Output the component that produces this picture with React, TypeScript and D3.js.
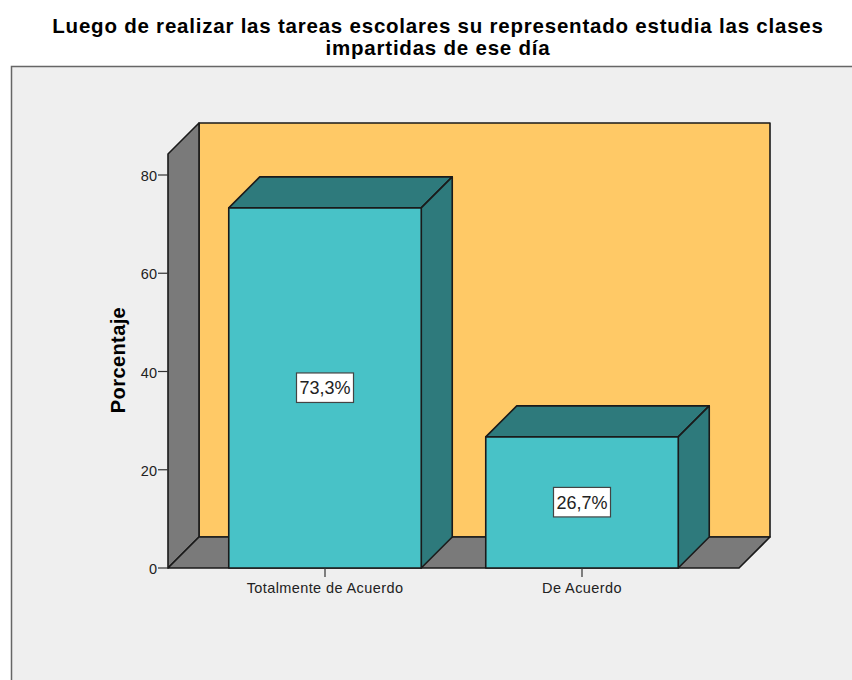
import React from "react";
import * as d3 from "d3";

const titleLines = ["Luego de realizar las tareas escolares su representado estudia las clases", "impartidas de ese día"];
const categories = ["Totalmente de Acuerdo", "De Acuerdo"];
const values = [73.3, 26.7];
const valueLabels = ["73,3%", "26,7%"];
const ticks = [0, 20, 40, 60, 80];
const yLabel = "Porcentaje";

const dx = 31, dy = 31;
const y = d3.scaleLinear().domain([0, 80]).range([568, 175]);
const x = d3.scaleBand<string>().domain(categories).range([168, 739]).paddingInner(0.251).paddingOuter(0.2364);
const line = d3.line();
const st = { stroke: "#1a1a1a", strokeWidth: 1.6, strokeLinejoin: "round" as const };
const P = (pts: [number, number][]) => line(pts)! + "Z";

export default function App() {
  const top = y(80) - 52;
  const x0 = 168, x1 = 739, y0 = y(0);
  return (
    <svg width={852} height={680} style={{ position: "absolute", left: 0, top: 0, background: "#fff" }} fontFamily="Liberation Sans, Arial, sans-serif">
      <rect x={12} y={67} width={840} height={613} fill="#efefef" />
      <path d="M11.5 680V66.5H852" fill="none" stroke="#666" strokeWidth={1.5} />
      {titleLines.map((t, i) => (
        <text key={i} x={438} y={33 + i * 22} textAnchor="middle" fontSize={20.5} letterSpacing={0.78} fontWeight="bold" fill="#000">{t}</text>
      ))}
      <path d={P([[x0 + dx, top], [x1 + dx, top], [x1 + dx, y0 - dy], [x0 + dx, y0 - dy]])} fill="#ffc966" {...st} />
      <path d={P([[x0, top + dy], [x0 + dx, top], [x0 + dx, y0 - dy], [x0, y0]])} fill="#7a7a7a" {...st} />
      <path d={P([[x0, y0], [x0 + dx, y0 - dy], [x1 + dx, y0 - dy], [x1, y0]])} fill="#7a7a7a" {...st} />
      {ticks.map(t => (
        <g key={t}>
          <line x1={x0 - 10} x2={x0} y1={y(t)} y2={y(t)} stroke="#333" strokeWidth={1.2} />
          <text x={x0 - 11} y={y(t) + 6} textAnchor="end" fontSize={14.5} fill="#222">{t}</text>
        </g>
      ))}
      <text transform="translate(125,360) rotate(-90)" textAnchor="middle" fontSize={20} letterSpacing={0.4} fontWeight="bold" fill="#000">{yLabel}</text>
      {categories.map((c, i) => {
        const l = x(c)!, r = l + x.bandwidth(), t = y(values[i]);
        const mid = (l + r) / 2;
        return (
          <g key={c}>
            <path d={P([[l, t], [l + dx, t - dy], [r + dx, t - dy], [r, t]])} fill="#2e7a7c" {...st} />
            <path d={P([[r, t], [r + dx, t - dy], [r + dx, y0 - dy], [r, y0]])} fill="#2e7a7c" {...st} />
            <rect x={l} y={t} width={r - l} height={y0 - t} fill="#48c2c7" {...st} />
            <line x1={mid} x2={mid} y1={y0} y2={y0 + 9} stroke="#333" strokeWidth={1.2} />
            <rect x={mid - 28.5} y={(t + y0) / 2 - 15} width={57} height={29.5} fill="#fff" stroke="#444" strokeWidth={1.2} />
            <text x={mid} y={(t + y0) / 2 + 6.5} textAnchor="middle" fontSize={18} fill="#222">{valueLabels[i]}</text>
            <text x={mid} y={593} textAnchor="middle" fontSize={14.5} letterSpacing={0.4} fill="#222">{c}</text>
          </g>
        );
      })}
    </svg>
  );
}
